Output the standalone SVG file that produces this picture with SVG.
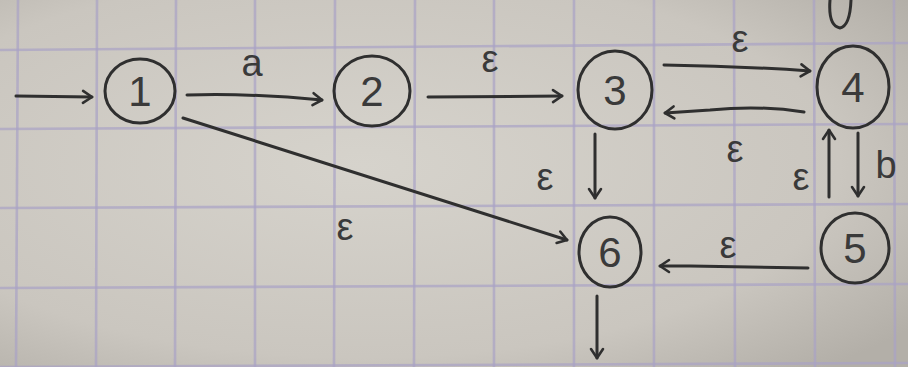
<svg xmlns="http://www.w3.org/2000/svg" width="908" height="367" viewBox="0 0 908 367">
<defs>
<radialGradient id="paper" cx="0.4" cy="0.45" r="0.75">
<stop offset="0" stop-color="#d6d3cc"/>
<stop offset="0.7" stop-color="#cac6bf"/>
<stop offset="1" stop-color="#b3afa8"/>
</radialGradient>
<marker id="ah" markerWidth="16" markerHeight="16" refX="12" refY="8" orient="auto" markerUnits="userSpaceOnUse">
<path d="M3,2 L12,8 L3,14" fill="none" stroke="#2f2f2f" stroke-width="2.6" stroke-linecap="round" stroke-linejoin="round"/>
</marker>
</defs>
<style>
.grid{stroke:#aaa3c6;stroke-width:2.6;opacity:0.7}
.node ellipse{fill:none;stroke:#2f2f2f;stroke-width:3}
.node text{font-family:"Liberation Sans",Arial,sans-serif;font-size:42px;fill:#3a3a3a;text-anchor:middle}
.edge{fill:none;stroke:#2f2f2f;stroke-width:3;stroke-linecap:round;marker-end:url(#ah)}
.plain{fill:none;stroke:#2f2f2f;stroke-width:3;stroke-linecap:round}
.lbl{font-family:"Liberation Sans",Arial,sans-serif;font-size:38px;fill:#3a3a3a;text-anchor:middle}
</style>
<rect width="908" height="367" fill="url(#paper)"/>
<g id="grid">
<line class="grid" x1="18" y1="0" x2="16" y2="367"/>
<line class="grid" x1="97" y1="0" x2="96" y2="367"/>
<line class="grid" x1="176" y1="0" x2="175" y2="367"/>
<line class="grid" x1="255" y1="0" x2="255" y2="367"/>
<line class="grid" x1="335" y1="0" x2="334" y2="367"/>
<line class="grid" x1="415" y1="0" x2="414" y2="367"/>
<line class="grid" x1="494" y1="0" x2="494" y2="367"/>
<line class="grid" x1="574" y1="0" x2="574" y2="367"/>
<line class="grid" x1="654" y1="0" x2="654" y2="367"/>
<line class="grid" x1="734" y1="0" x2="735" y2="367"/>
<line class="grid" x1="814" y1="0" x2="815" y2="367"/>
<line class="grid" x1="894" y1="0" x2="895" y2="367"/>
<line class="grid" x1="0" y1="50" x2="908" y2="43"/>
<line class="grid" x1="0" y1="129" x2="908" y2="124"/>
<line class="grid" x1="0" y1="208" x2="908" y2="204"/>
<line class="grid" x1="0" y1="288" x2="908" y2="284"/>
<line class="grid" x1="0" y1="367" x2="908" y2="363"/>
</g>
<g id="connectors">
<path class="edge" d="M16,96 L92,97"/>
<path class="edge" d="M187,95 Q250,93 322,100"/>
<text class="lbl" x="252" y="76">a</text>
<path class="edge" d="M428,97 L562,96"/>
<text class="lbl" x="490" y="72">ε</text>
<path class="edge" d="M664,65 Q740,66 810,71"/>
<text class="lbl" x="740" y="52">ε</text>
<path class="edge" d="M804,112 Q760,105 710,110 L665,113"/>
<text class="lbl" x="735" y="162">ε</text>
<path class="edge" d="M595,134 L595,198"/>
<text class="lbl" x="545" y="190">ε</text>
<path class="edge" d="M829,197 L829,130"/>
<text class="lbl" x="801" y="190">ε</text>
<path class="edge" d="M858,133 L858,196"/>
<text class="lbl" x="886" y="178">b</text>
<path class="edge" d="M808,268 L690,266 L660,266"/>
<text class="lbl" x="728" y="258">ε</text>
<path class="edge" d="M183,118 L567,240"/>
<text class="lbl" x="345" y="240">ε</text>
<path class="edge" d="M597,296 L597,358"/>
<path class="plain" d="M830,0 Q828,26 840,28 Q850,26 851,0"/>
</g>
<g id="node1" class="node"><ellipse cx="140" cy="91" rx="35" ry="32"/><text x="140" y="106">1</text></g>
<g id="node2" class="node"><ellipse cx="372" cy="91" rx="38" ry="35"/><text x="372" y="106">2</text></g>
<g id="node3" class="node"><ellipse cx="615" cy="90" rx="37" ry="39"/><text x="615" y="105">3</text></g>
<g id="node4" class="node"><ellipse cx="853" cy="87" rx="36" ry="41"/><text x="853" y="102">4</text></g>
<g id="node5" class="node"><ellipse cx="855" cy="248" rx="34" ry="35"/><text x="855" y="263">5</text></g>
<g id="node6" class="node"><ellipse cx="610" cy="252" rx="31" ry="35"/><text x="610" y="267">6</text></g>
</svg>
